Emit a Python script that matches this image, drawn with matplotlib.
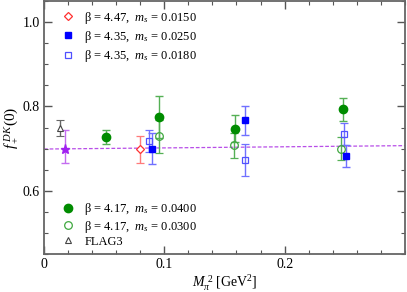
import matplotlib
matplotlib.use("Agg")
import matplotlib.pyplot as plt
from matplotlib.lines import Line2D
from matplotlib.ticker import MultipleLocator

plt.rcParams['font.family'] = ['Liberation Serif', 'DejaVu Serif']
plt.rcParams['mathtext.fontset'] = 'custom'
plt.rcParams['mathtext.rm'] = 'Liberation Serif'
plt.rcParams['mathtext.it'] = 'Liberation Serif:italic'
plt.rcParams['mathtext.bf'] = 'Liberation Serif:bold'

# ---- data ----
# beta=4.17, ms=0.0400 (filled green circles)
g1_x = [0.0512, 0.0954, 0.1590, 0.2487]
g1_y = [0.727, 0.775, 0.747, 0.793]
g1_e = [0.016, 0.050, 0.032, 0.027]
# beta=4.17, ms=0.0300 (open green circles)
g2_x = [0.0960, 0.1577, 0.2470]
g2_y = [0.729, 0.708, 0.700]
g2_e = [0.040, 0.030, 0.028]
# beta=4.35, ms=0.0250 (filled blue squares)
b1_x = [0.0902, 0.1668, 0.2509]
b1_y = [0.700, 0.767, 0.683]
b1_e = [0.036, 0.035, 0.026]
# beta=4.35, ms=0.0180 (open blue squares)
b2_x = [0.0871, 0.1668, 0.2492]
b2_y = [0.717, 0.673, 0.734]
b2_e = [0.026, 0.038, 0.026]
# beta=4.47, ms=0.0150 (open red diamond)
r_x = [0.0802]
r_y = [0.698]
r_e = [0.033]
# FLAG3
flag_x = [0.0133]
flag_y = [0.748]
flag_e = [0.019]
# extrapolated value (star)
star_x = [0.0174]
star_y = [0.698]
star_elo = [0.032]
star_ehi = [0.047]
# fit line
fit_x = [0.0, 0.3]
fit_y = [0.699, 0.707]

labels = [r"β = 4.47,  $m_s$ = 0.0150",
          r"β = 4.35,  $m_s$ = 0.0250",
          r"β = 4.35,  $m_s$ = 0.0180",
          r"β = 4.17,  $m_s$ = 0.0400",
          r"β = 4.17,  $m_s$ = 0.0300",
          "FLAG3"]

fig = plt.figure(figsize=(4.07, 2.92), dpi=100)
ax = fig.add_axes([0.108, 0.130, 0.887, 0.8666])

green = '#008c00'
green_e = '#55b055'
blue = '#0000ff'
blue_e = '#7070ff'
red = '#ff3030'
red_e = '#ff7a7a'
purple = '#a020f0'
purple_e = '#c46cf0'

ax.plot(fit_x, fit_y, ls=(0, (3, 1.5)), color='#b84ee8', lw=0.9, zorder=1)

kw = dict(capsize=3, elinewidth=1.0, capthick=1.0, ls='none')
ax.errorbar(flag_x, flag_y, yerr=flag_e, marker='^', ms=5, mfc='white',
            mec='#444444', mew=0.8, ecolor='#666666', **kw)
ax.errorbar(star_x, star_y, yerr=[star_elo, star_ehi], marker='*', ms=6.5,
            mfc=purple, mec=purple, ecolor=purple_e, **kw)
ax.errorbar(r_x, r_y, yerr=r_e, marker='D', ms=4.5, mfc='white', mec=red,
            mew=0.9, ecolor=red_e, **kw)
ax.errorbar(g2_x, g2_y, yerr=g2_e, marker='o', ms=5.5, mfc='none', mec='#40a840',
            mew=0.9, ecolor=green_e, **kw)
ax.errorbar(g1_x, g1_y, yerr=g1_e, marker='o', ms=6, mfc=green, mec=green,
            ecolor=green_e, **kw)
ax.errorbar(b2_x, b2_y, yerr=b2_e, marker='s', ms=5, mfc='none', mec='#5050ff',
            mew=0.9, ecolor=blue_e, **kw)
ax.errorbar(b1_x, b1_y, yerr=b1_e, marker='s', ms=5, mfc=blue, mec=blue,
            ecolor=blue_e, **kw)

ax.set_xlim(0, 0.3)
ax.set_ylim(0.45, 1.05)
ax.xaxis.set_minor_locator(MultipleLocator(0.02))
ax.yaxis.set_minor_locator(MultipleLocator(0.05))
ax.set_xticks([0, 0.1, 0.2])
ax.set_xticklabels(['0', '0.1', '0.2'])
ax.set_yticks([0.6, 0.8, 1.0])
ax.set_yticklabels(['0.6', '0.8', '1.0'])
ax.tick_params(which='both', direction='in', top=True, right=True,
               labelsize=10, color='#555555')
ax.tick_params(which='major', length=6, width=1.0, pad=3)
ax.tick_params(which='minor', length=3, width=0.8)
for s in ax.spines.values():
    s.set_color('#666666')
    s.set_linewidth(1.3)

ax.set_xlabel(r"$M_\pi^{\ 2}$ [GeV$^2$]", fontsize=10, labelpad=2)
ax.set_ylabel(r"$f_+^{\ DK}(0)$", fontsize=11, labelpad=1)

h1 = [Line2D([], [], ls='none', marker='D', ms=4.5, mfc='white', mec=red, mew=0.9),
      Line2D([], [], ls='none', marker='s', ms=5, mfc=blue, mec=blue),
      Line2D([], [], ls='none', marker='s', ms=5, mfc='none', mec='#5050ff', mew=0.9)]
h2 = [Line2D([], [], ls='none', marker='o', ms=6, mfc=green, mec=green),
      Line2D([], [], ls='none', marker='o', ms=5.5, mfc='none', mec='#40a840', mew=0.9),
      Line2D([], [], ls='none', marker='^', ms=5, mfc='white', mec='#444444', mew=0.8)]
leg1 = ax.legend(h1, labels[:3], loc='upper left', bbox_to_anchor=(0.025, 1.0),
                 frameon=False, fontsize=9, handlelength=1.0, handletextpad=0.8,
                 labelspacing=0.25, borderaxespad=0.3)
ax.add_artist(leg1)
ax.legend(h2, labels[3:], loc='lower left', bbox_to_anchor=(0.025, -0.01),
          frameon=False, fontsize=9, handlelength=1.0, handletextpad=0.8,
          labelspacing=0.1, borderaxespad=0.3)

fig.savefig("out.png", dpi=100)
